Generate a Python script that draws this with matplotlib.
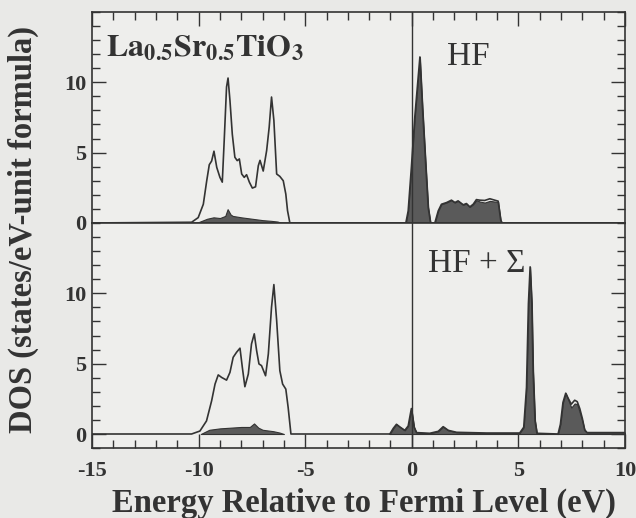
import matplotlib
matplotlib.use("Agg")
import matplotlib.pyplot as plt
from matplotlib.ticker import MultipleLocator, FixedLocator

# Energy grid points (eV) and DOS values (states/eV-unit formula)
# HF: total DOS of the O 2p valence band
hf_valence_e = [-15.0, -10.33, -10.02, -9.78, -9.62, -9.50, -9.39, -9.28, -9.15, -9.00,
                -8.89, -8.80, -8.69, -8.62, -8.53, -8.42, -8.30, -8.19, -8.09, -7.98,
                -7.86, -7.75, -7.62, -7.48, -7.33, -7.20, -7.12, -6.97, -6.81, -6.69,
                -6.58, -6.47, -6.34, -6.19, -6.03, -5.91, -5.83, -5.72, -0.28]
hf_valence_dos = [0.0, 0.05, 0.38, 1.33, 3.0, 4.14, 4.4, 5.1, 3.95, 3.24,
                  2.9, 5.86, 9.67, 10.3, 8.7, 6.3, 4.67, 4.43, 4.55, 3.48,
                  3.24, 3.43, 2.9, 2.48, 2.57, 4.07, 4.45, 3.69, 5.14, 6.81,
                  8.95, 7.29, 3.48, 3.31, 3.0, 2.05, 0.88, 0.0, 0.0]
# HF: Ti d projected part of the valence band
hf_valence_d_e = [-10.1, -9.6, -9.3, -9.0, -8.75, -8.64, -8.5, -8.4, -8.0, -7.5,
                  -7.0, -6.6, -6.3, -6.1]
hf_valence_d_dos = [0.0, 0.3, 0.4, 0.35, 0.5, 0.98, 0.6, 0.5, 0.4, 0.3,
                    0.2, 0.15, 0.1, 0.0]

# HF: conduction states above the Fermi level
hf_cond_e = [-0.28, -0.17, -0.02, 0.14, 0.38, 0.50, 0.66, 0.77, 0.88, 1.08,
             1.24, 1.39, 1.63, 1.86, 2.02, 2.17, 2.41, 2.56, 2.72, 2.88,
             3.03, 3.19, 3.42, 3.66, 3.89, 4.05, 4.17, 4.23, 10.0]
hf_cond_total = [0.0, 0.86, 3.95, 7.52, 11.8, 8.24, 3.95, 1.1, 0.0, 0.0,
                 0.86, 1.33, 1.45, 1.62, 1.45, 1.57, 1.29, 1.38, 1.14, 1.33,
                 1.66, 1.62, 1.6, 1.72, 1.62, 1.55, 0.2, 0.0, 0.0]
hf_cond_d = [0.0, 0.86, 3.95, 7.52, 11.8, 8.24, 3.95, 1.1, 0.0, 0.0,
             0.86, 1.33, 1.45, 1.62, 1.45, 1.57, 1.29, 1.38, 1.14, 1.33,
             1.62, 1.52, 1.45, 1.57, 1.52, 1.5, 0.2, 0.0, 0.0]

# HF + Sigma: valence band
hfs_valence_e = [-15.0, -10.33, -9.94, -9.63, -9.39, -9.23, -9.08, -8.92, -8.69, -8.53,
                 -8.38, -8.22, -8.06, -7.95, -7.83, -7.67, -7.52, -7.39, -7.28, -7.17,
                 -7.05, -6.86, -6.73, -6.58, -6.47, -6.34, -6.19, -6.06, -5.91, -5.80,
                 -5.67, -1.03]
hfs_valence_dos = [0.0, 0.0, 0.21, 0.93, 2.36, 3.55, 4.2, 4.02, 3.83, 4.38,
                   5.45, 5.81, 6.1, 4.74, 3.36, 4.26, 6.4, 7.12, 5.93, 4.98,
                   4.86, 4.14, 5.69, 9.02, 10.62, 8.07, 4.5, 3.55, 3.19, 1.88,
                   0.0, 0.0]
hfs_valence_d_e = [-9.9, -9.5, -9.0, -8.5, -8.0, -7.6, -7.4, -7.2, -7.0, -6.5,
                   -6.2, -6.0]
hfs_valence_d_dos = [0.0, 0.3, 0.4, 0.45, 0.5, 0.5, 0.75, 0.45, 0.3, 0.2,
                     0.1, 0.0]

# HF + Sigma: states around and above the Fermi level
hfs_cond_e = [-1.03, -0.87, -0.72, -0.56, -0.33, -0.17, -0.02, 0.11, 0.22, 0.84,
              1.24, 1.47, 1.71, 2.10, 3.50, 5.06, 5.25, 5.38, 5.47, 5.55,
              5.63, 5.69, 5.78, 5.87, 6.86, 6.97, 7.09, 7.22, 7.33, 7.48,
              7.64, 7.76, 7.88, 8.00, 8.11, 8.22, 10.0]
hfs_cond_total = [0.0, 0.4, 0.69, 0.5, 0.26, 0.57, 1.81, 0.48, 0.1, 0.05,
                  0.19, 0.52, 0.26, 0.12, 0.07, 0.07, 0.48, 3.31, 9.26, 11.88,
                  9.26, 4.5, 0.95, 0.05, 0.0, 0.69, 2.24, 2.9, 2.55, 2.12,
                  2.4, 2.3, 1.8, 1.1, 0.3, 0.1, 0.1]
hfs_cond_d = [0.0, 0.4, 0.69, 0.5, 0.26, 0.57, 1.81, 0.48, 0.1, 0.05,
              0.19, 0.52, 0.26, 0.12, 0.07, 0.07, 0.48, 3.31, 9.26, 11.88,
              9.26, 4.5, 0.95, 0.05, 0.0, 0.69, 2.24, 2.9, 2.48, 1.88,
              2.17, 2.12, 1.52, 0.93, 0.24, 0.1, 0.1]

PAPER = "#e9e9e7"
INK = "#333333"
FILL = "#5a5a5a"

plt.rcParams["font.family"] = ["Liberation Serif", "DejaVu Serif"]
plt.rcParams["mathtext.fontset"] = "stix"
plt.rcParams["axes.unicode_minus"] = False

fig = plt.figure(figsize=(6.36, 5.18), dpi=100, facecolor=PAPER)
gs = fig.add_gridspec(2, 1, height_ratios=[15, 16], hspace=0,
                      left=0.1447, right=0.9827, top=0.977, bottom=0.135)
ax_hf = fig.add_subplot(gs[0])
ax_sig = fig.add_subplot(gs[1], sharex=ax_hf)


def style_axes(ax, ylim, top):
    ax.set_facecolor("#eeeeec")
    ax.set_xlim(-15, 10)
    ax.set_ylim(*ylim)
    ax.xaxis.set_major_locator(MultipleLocator(5))
    ax.xaxis.set_minor_locator(MultipleLocator(1))
    ax.yaxis.set_major_locator(FixedLocator([0, 5, 10]))
    ax.yaxis.set_minor_locator(MultipleLocator(1))
    ax.tick_params(which="both", direction="in", color=INK, width=1.0,
                   left=True, right=True, top=top, bottom=not top,
                   labelbottom=not top, labeltop=False)
    ax.tick_params(which="major", length=10, labelsize=16, pad=4)
    ax.tick_params(which="minor", length=6)
    for lab in ax.get_xticklabels() + ax.get_yticklabels():
        lab.set_fontweight("bold")
        lab.set_color(INK)
    for sp in ax.spines.values():
        sp.set_color(INK)
        sp.set_linewidth(1.2)


# Top panel: Hartree-Fock
ax_hf.plot(hf_valence_e, hf_valence_dos, color=INK, lw=1.2, zorder=3)
ax_hf.fill_between(hf_valence_d_e, hf_valence_d_dos, 0, color=FILL,
                   edgecolor=INK, lw=0.8, zorder=2)
ax_hf.fill_between(hf_cond_e, hf_cond_d, 0, color=FILL, edgecolor=INK, lw=0.8, zorder=2)
ax_hf.plot(hf_cond_e, hf_cond_total, color=INK, lw=1.2, zorder=3)
ax_hf.axvline(0, color=INK, lw=1.0, zorder=4)
style_axes(ax_hf, (0, 15), top=True)
ax_hf.text(-14.35, 11.8, r"$\mathbf{La_{0.5}Sr_{0.5}TiO_3}$", fontsize=23,
           color=INK, va="baseline", ha="left")
ax_hf.text(1.63, 11.2, "HF", fontsize=24, color=INK, va="baseline", ha="left")

# Bottom panel: Hartree-Fock plus self-energy correction
ax_sig.plot(hfs_valence_e, hfs_valence_dos, color=INK, lw=1.2, zorder=3)
ax_sig.fill_between(hfs_valence_d_e, hfs_valence_d_dos, 0, color=FILL,
                    edgecolor=INK, lw=0.8, zorder=2)
ax_sig.fill_between(hfs_cond_e, hfs_cond_d, 0, color=FILL, edgecolor=INK, lw=0.8, zorder=2)
ax_sig.plot(hfs_cond_e, hfs_cond_total, color=INK, lw=1.2, zorder=3)
ax_sig.axvline(0, color=INK, lw=1.0, zorder=4)
style_axes(ax_sig, (-1, 15), top=False)
ax_sig.tick_params(axis="x", which="major", pad=9)
ax_sig.text(0.75, 11.5, "HF + Σ", fontsize=24, color=INK, va="baseline", ha="left")

fig.text(0.572, 0.012, "Energy Relative to Fermi Level (eV)", fontsize=23.5,
         fontweight="bold", color=INK, va="baseline", ha="center")
fig.text(0.036, 0.556, "DOS (states/eV-unit formula)", rotation=90, fontsize=23.5,
         fontweight="bold", color=INK, va="center", ha="center")

fig.savefig("out.png", dpi=100, facecolor=PAPER)
